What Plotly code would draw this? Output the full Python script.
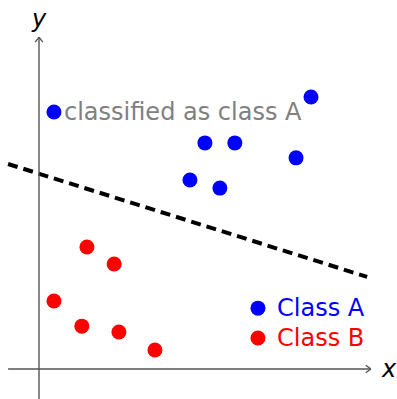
import plotly.graph_objects as go

# Sample points for the two classes
class_a_x = [8.0, 4.88, 5.76, 7.56, 4.44, 5.32]
class_a_y = [8.0, 6.65, 6.65, 6.21, 5.56, 5.32]
class_b_x = [1.41, 2.21, 0.44, 1.26, 2.35, 3.41]
class_b_y = [3.59, 3.09, 2.0, 1.26, 1.09, 0.56]

# Decision boundary (two end points of the separating line)
boundary_x = [-0.91, 9.65]
boundary_y = [6.03, 2.71]

# Example point with its label
example_x = [0.44]
example_y = [7.56]
example_label = "classified as class A"

# Legend entries
legend_names = ["Class A", "Class B"]
legend_colors = ["#0000ff", "#ff0000"]
legend_x = [6.44, 6.44]
legend_y = [1.79, 0.91]

# Axis extents
x_axis_span = [-0.91, 9.76]
y_axis_span = [-0.88, 9.76]

FONT = "DejaVu Sans"
BLUE, RED, GRAY, AXIS = "#0000ff", "#ff0000", "#808080", "#555555"
PX = 1 / 34  # one screen pixel in data units

fig = go.Figure()

fig.add_trace(go.Scatter(
    x=boundary_x, y=boundary_y, mode="lines",
    line=dict(color="black", width=4, dash="10px,6px"),
    hoverinfo="skip"))

fig.add_trace(go.Scatter(
    x=class_a_x, y=class_a_y, mode="markers",
    marker=dict(color=BLUE, size=15, line=dict(width=0))))
fig.add_trace(go.Scatter(
    x=class_b_x, y=class_b_y, mode="markers",
    marker=dict(color=RED, size=15, line=dict(width=0))))
fig.add_trace(go.Scatter(
    x=example_x, y=example_y, mode="markers",
    marker=dict(color=BLUE, size=15, line=dict(width=0))))
fig.add_trace(go.Scatter(
    x=legend_x, y=legend_y, mode="markers",
    marker=dict(color=legend_colors, size=15, line=dict(width=0))))

# Axis lines with open arrow tips
axis_line = dict(color=AXIS, width=1.4)
shapes = [
    dict(type="line", xref="x", yref="y", x0=x_axis_span[0], y0=0,
         x1=x_axis_span[1], y1=0, line=axis_line),
    dict(type="line", xref="x", yref="y", x0=0, y0=y_axis_span[0],
         x1=0, y1=y_axis_span[1], line=axis_line),
]
tx, ty = x_axis_span[1], y_axis_span[1]
for s in (1, -1):
    shapes.append(dict(type="line", xref="x", yref="y",
                       x0=tx - 5 * PX, y0=s * 3.8 * PX, x1=tx, y1=0,
                       line=axis_line))
    shapes.append(dict(type="line", xref="x", yref="y",
                       x0=s * 3.8 * PX, y0=ty - 5 * PX, x1=0, y1=ty,
                       line=axis_line))

annotations = [
    dict(x=x_axis_span[1], y=0, text="<i>x</i>", showarrow=False,
         xanchor="left", yanchor="middle", xshift=8,
         font=dict(family=FONT, size=24, color="black")),
    dict(x=0, y=y_axis_span[1], text="<i>y</i>", showarrow=False,
         xanchor="center", yanchor="bottom", yshift=2,
         font=dict(family=FONT, size=24, color="black")),
    dict(x=example_x[0], y=example_y[0], text=example_label, showarrow=False,
         xanchor="left", yanchor="middle", xshift=8,
         font=dict(family=FONT, size=24, color=GRAY)),
]

for name, col, lx, ly in zip(legend_names, legend_colors, legend_x, legend_y):
    annotations.append(dict(
        x=lx, y=ly, text=name, showarrow=False,
        xanchor="left", yanchor="middle", xshift=17,
        font=dict(family=FONT, size=24, color=col)))

fig.update_layout(
    width=397, height=399,
    margin=dict(l=0, r=0, t=0, b=0),
    paper_bgcolor="white", plot_bgcolor="white",
    showlegend=False,
    xaxis=dict(range=[-39 / 34, 358 / 34], visible=False, fixedrange=True),
    yaxis=dict(range=[-30 / 34, 369 / 34], visible=False, fixedrange=True),
    shapes=shapes,
    annotations=annotations,
)

fig.write_html("out.html")
